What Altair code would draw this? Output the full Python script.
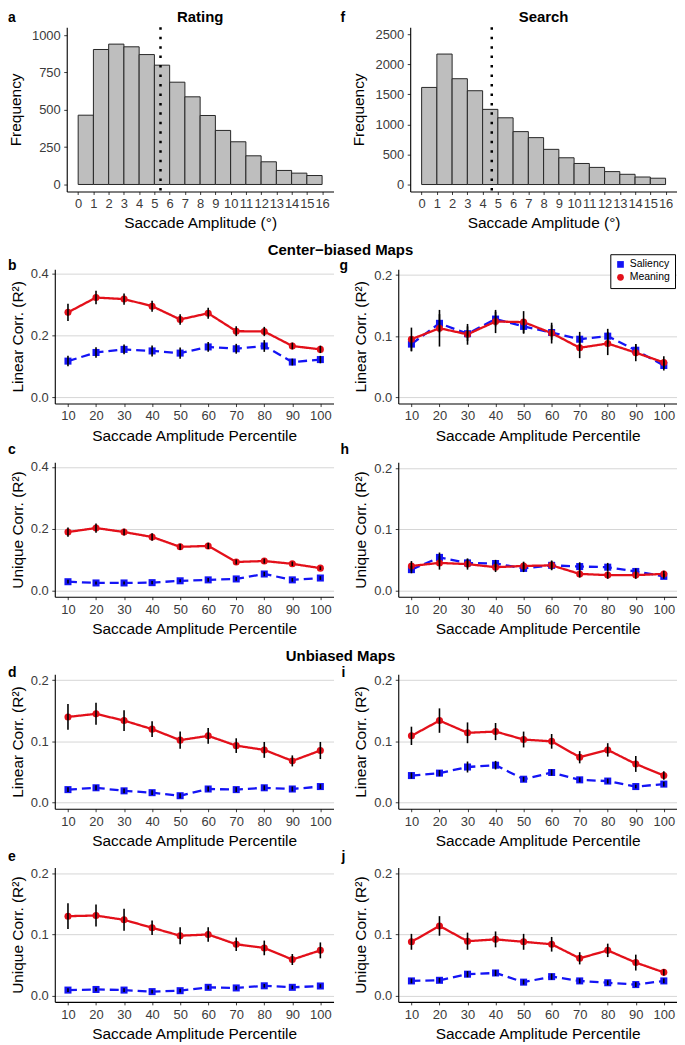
import altair as alt
import pandas as pd

FONT = "Liberation Sans"

# ---------------- histogram data ----------------
BIN_EDGES = list(range(17))
RATING_COUNTS = [464, 904, 940, 922, 870, 799, 685, 587, 462, 362, 286, 192, 152, 94, 76, 60]
SEARCH_COUNTS = [1615, 2170, 1760, 1560, 1250, 1110, 880, 780, 585, 445, 350, 285, 215, 170, 125, 105]
RATING_MEAN = [5.4]
SEARCH_MEAN = [4.6]
RATING_TICKS = [0, 250, 500, 750, 1000]
SEARCH_TICKS = [0, 500, 1000, 1500, 2000, 2500]

# ---------------- line panel data ----------------
PCT = [10, 20, 30, 40, 50, 60, 70, 80, 90, 100]
MODELS = ["Saliency", "Meaning"]
COLORS = ["#1414f5", "#e3101a"]

# b: center-biased, rating, linear
B_MEANING = [0.275, 0.323, 0.318, 0.295, 0.252, 0.272, 0.214, 0.213, 0.166, 0.155]
B_MEANING_ERR = [0.028, 0.022, 0.018, 0.018, 0.017, 0.018, 0.016, 0.015, 0.011, 0.012]
B_SALIENCY = [0.117, 0.145, 0.155, 0.150, 0.143, 0.163, 0.157, 0.166, 0.114, 0.122]
B_SALIENCY_ERR = [0.017, 0.017, 0.016, 0.018, 0.018, 0.016, 0.016, 0.019, 0.011, 0.012]
# g: center-biased, search, linear
G_MEANING = [0.095, 0.113, 0.103, 0.124, 0.123, 0.105, 0.081, 0.088, 0.073, 0.057]
G_MEANING_ERR = [0.019, 0.030, 0.017, 0.019, 0.018, 0.017, 0.017, 0.019, 0.014, 0.010]
G_SALIENCY = [0.087, 0.121, 0.104, 0.128, 0.116, 0.106, 0.095, 0.100, 0.077, 0.052]
G_SALIENCY_ERR = [0.012, 0.015, 0.012, 0.012, 0.012, 0.012, 0.012, 0.012, 0.010, 0.008]
# c: center-biased, rating, unique
C_MEANING = [0.189, 0.202, 0.189, 0.173, 0.141, 0.144, 0.092, 0.095, 0.086, 0.072]
C_MEANING_ERR = [0.015, 0.015, 0.011, 0.012, 0.010, 0.010, 0.008, 0.008, 0.007, 0.006]
C_SALIENCY = [0.028, 0.024, 0.024, 0.025, 0.031, 0.034, 0.037, 0.053, 0.034, 0.040]
C_SALIENCY_ERR = [0.006, 0.005, 0.005, 0.005, 0.005, 0.006, 0.006, 0.007, 0.006, 0.006]
# h: center-biased, search, unique
H_MEANING = [0.040, 0.045, 0.043, 0.038, 0.040, 0.041, 0.027, 0.025, 0.025, 0.027]
H_MEANING_ERR = [0.008, 0.011, 0.009, 0.008, 0.007, 0.008, 0.006, 0.006, 0.006, 0.005]
H_SALIENCY = [0.034, 0.054, 0.045, 0.044, 0.036, 0.041, 0.039, 0.038, 0.031, 0.023]
H_SALIENCY_ERR = [0.006, 0.008, 0.007, 0.006, 0.006, 0.007, 0.007, 0.007, 0.005, 0.004]
# d: unbiased, rating, linear
D_MEANING = [0.140, 0.145, 0.134, 0.120, 0.102, 0.109, 0.093, 0.086, 0.068, 0.085]
D_MEANING_ERR = [0.021, 0.018, 0.017, 0.013, 0.014, 0.013, 0.012, 0.013, 0.009, 0.014]
D_SALIENCY = [0.021, 0.024, 0.019, 0.016, 0.011, 0.022, 0.021, 0.024, 0.022, 0.026]
D_SALIENCY_ERR = [0.004, 0.004, 0.004, 0.004, 0.004, 0.004, 0.004, 0.004, 0.004, 0.004]
# i: unbiased, search, linear
I_MEANING = [0.109, 0.134, 0.114, 0.116, 0.103, 0.100, 0.074, 0.086, 0.063, 0.044]
I_MEANING_ERR = [0.015, 0.020, 0.017, 0.014, 0.013, 0.012, 0.010, 0.011, 0.013, 0.007]
I_SALIENCY = [0.044, 0.048, 0.058, 0.061, 0.038, 0.049, 0.037, 0.035, 0.026, 0.030]
I_SALIENCY_ERR = [0.005, 0.005, 0.009, 0.007, 0.004, 0.005, 0.004, 0.004, 0.003, 0.004]
# e: unbiased, rating, unique
E_MEANING = [0.130, 0.131, 0.124, 0.111, 0.098, 0.100, 0.084, 0.078, 0.059, 0.074]
E_MEANING_ERR = [0.021, 0.018, 0.018, 0.012, 0.014, 0.012, 0.011, 0.012, 0.009, 0.013]
E_SALIENCY = [0.009, 0.010, 0.009, 0.0065, 0.008, 0.0135, 0.0125, 0.016, 0.0135, 0.0157]
E_SALIENCY_ERR = [0.003, 0.003, 0.003, 0.003, 0.003, 0.003, 0.003, 0.003, 0.003, 0.003]
# j: unbiased, search, unique
J_MEANING = [0.088, 0.114, 0.089, 0.092, 0.088, 0.084, 0.061, 0.074, 0.054, 0.038]
J_MEANING_ERR = [0.013, 0.016, 0.014, 0.013, 0.013, 0.012, 0.010, 0.011, 0.013, 0.005]
J_SALIENCY = [0.024, 0.025, 0.035, 0.037, 0.022, 0.031, 0.024, 0.021, 0.018, 0.024]
J_SALIENCY_ERR = [0.004, 0.004, 0.005, 0.005, 0.004, 0.005, 0.004, 0.004, 0.004, 0.004]

LEGEND = alt.Legend(title=None, orient="none", legendX=558, legendY=228,
                    strokeColor="black", fillColor="white", padding=5,
                    labelFont=FONT, labelFontSize=10.5, labelColor="black",
                    symbolSize=45, symbolStrokeWidth=0, rowPadding=2, labelOffset=4)

PW = 280


def text_layer(text, x, y, size, align="left", weight="bold"):
    return alt.Chart(pd.DataFrame({"t": [text]})).mark_text(
        font=FONT, fontSize=size, fontWeight=weight, align=align,
        baseline="alphabetic", color="black"
    ).encode(text="t:N", x=alt.value(x), y=alt.value(y))


def hist_panel(counts, mean, ticks, ydom, title, letter, letter_x):
    df = pd.DataFrame({"start": BIN_EDGES[:-1], "end": BIN_EDGES[1:],
                       "count": counts, "base": [0] * len(counts)})
    xscale = alt.Scale(domain=[-0.75, 16.75], range=[12, PW], nice=False, zero=False)
    xaxis = alt.Axis(values=BIN_EDGES, title="Saccade Amplitude (°)", grid=False,
                     labelOverlap=False, labelFlush=False, titlePadding=5)
    yscale = alt.Scale(domain=ydom, nice=False, zero=False)
    yaxis = alt.Axis(values=ticks, format="d", title="Frequency", grid=False, offset=-12,
                     labelFlush=False, labelOverlap=False, titlePadding=8)
    bars = alt.Chart(df).mark_bar(fill="#bebebe", stroke="#262626", strokeWidth=1).encode(
        x=alt.X("start:Q", scale=xscale, axis=xaxis), x2="end:Q",
        y=alt.Y("count:Q", scale=yscale, axis=yaxis), y2="base:Q")
    rule = alt.Chart(pd.DataFrame({"m": mean})).mark_rule(
        color="black", strokeWidth=2.5, strokeDash=[2.5, 7]
    ).encode(x=alt.X("m:Q", scale=xscale, axis=xaxis))
    return alt.layer(
        bars, rule,
        text_layer(letter, letter_x, -5, 14),
        text_layer(title, (12 + PW) / 2, -5, 15, align="center"),
    ).properties(width=PW, height=165)


def line_panel(meaning, meaning_err, saliency, saliency_err, ydom, yticks, ytitle,
               height, top_pad, letter, letter_x, letter_y, header=None, header_y=None):
    rows = []
    for model, vals, errs in [("Saliency", saliency, saliency_err), ("Meaning", meaning, meaning_err)]:
        for p, v, e in zip(PCT, vals, errs):
            rows.append({"pct": p, "model": model, "value": v, "lo": v - e, "hi": v + e})
    df = pd.DataFrame(rows)
    xenc = alt.X("pct:Q", scale=alt.Scale(domain=[5.3, 104.7], nice=False, zero=False),
                 axis=alt.Axis(values=PCT, title="Saccade Amplitude Percentile", grid=False,
                               labelFlush=False, labelOverlap=False))
    yscale = alt.Scale(domain=ydom, range=[height, top_pad], nice=False, zero=False)
    yaxis = alt.Axis(values=yticks, format=".1f", title=ytitle, grid=True,
                     labelFlush=False, labelOverlap=False)
    color = alt.Color("model:N", scale=alt.Scale(domain=MODELS, range=COLORS), legend=LEGEND)
    shape = alt.Shape("model:N", scale=alt.Scale(domain=MODELS, range=["square", "circle"]), legend=LEGEND)
    dash = alt.StrokeDash("model:N", scale=alt.Scale(domain=MODELS, range=[[9, 5], [1, 0]]), legend=None)
    base = alt.Chart(df)
    line = base.mark_line(strokeWidth=2.3).encode(
        x=xenc, y=alt.Y("value:Q", scale=yscale, axis=yaxis), color=color, strokeDash=dash)
    pts = base.mark_point(filled=True, size=50, opacity=1).encode(
        x=xenc, y=alt.Y("value:Q", scale=yscale, axis=yaxis), color=color, shape=shape)
    err = base.mark_rule(color="black", strokeWidth=1.6).encode(
        x=xenc, y=alt.Y("lo:Q", scale=yscale, axis=yaxis), y2="hi:Q")
    layers = [line, pts, err, text_layer(letter, letter_x, letter_y, 14)]
    if header is not None:
        layers.append(text_layer(header, 287, header_y, 15, align="center"))
    return alt.layer(*layers).properties(width=PW, height=height)


DOM4 = [-0.0205, 0.415]
DOM2 = [-0.0103, 0.2097]
T4 = [0.0, 0.2, 0.4]
T2 = [0.0, 0.1, 0.2]
LIN = "Linear Corr. (R²)"
UNI = "Unique Corr. (R²)"

pa = hist_panel(RATING_COUNTS, RATING_MEAN, RATING_TICKS, [-47, 1053], "Rating", "a", -47)
pf = hist_panel(SEARCH_COUNTS, SEARCH_MEAN, SEARCH_TICKS, [-116, 2616], "Search", "f", -58)

pb = line_panel(B_MEANING, B_MEANING_ERR, B_SALIENCY, B_SALIENCY_ERR, DOM4, T4, LIN,
                154.5, 19.5, "b", -47, 20.3, header="Center−biased Maps", header_y=5.5)
pg = line_panel(G_MEANING, G_MEANING_ERR, G_SALIENCY, G_SALIENCY_ERR, DOM2, T2, LIN,
                154.5, 19.5, "g", -59, 20.3)
pc = line_panel(C_MEANING, C_MEANING_ERR, C_SALIENCY, C_SALIENCY_ERR, DOM4, T4, UNI,
                135, 0, "c", -47, -8.5)
ph = line_panel(H_MEANING, H_MEANING_ERR, H_SALIENCY, H_SALIENCY_ERR, DOM2, T2, UNI,
                135, 0, "h", -58, -8.5)
pd_ = line_panel(D_MEANING, D_MEANING_ERR, D_SALIENCY, D_SALIENCY_ERR, DOM2, T2, LIN,
                 154.5, 19.5, "d", -47, 21.7, header="Unbiased Maps", header_y=6)
pi = line_panel(I_MEANING, I_MEANING_ERR, I_SALIENCY, I_SALIENCY_ERR, DOM2, T2, LIN,
                154.5, 19.5, "i", -57, 21.7)
pe = line_panel(E_MEANING, E_MEANING_ERR, E_SALIENCY, E_SALIENCY_ERR, DOM2, T2, UNI,
                135, 0, "e", -47, -6.3)
pj = line_panel(J_MEANING, J_MEANING_ERR, J_SALIENCY, J_SALIENCY_ERR, DOM2, T2, UNI,
                135, 0, "j", -57, -6.3)

chart = alt.concat(
    pa, pf, pb, pg, pc, ph, pd_, pi, pe, pj,
    columns=2,
    spacing=alt.RowColnumber(row=58.5, column=65),
    bounds="flush",
).properties(padding=0).configure_view(stroke=None).configure_axis(
    labelFont=FONT, titleFont=FONT, labelFontSize=13, titleFontSize=15.5,
    labelColor="#3b3b3b", titleColor="black", titleFontWeight="normal",
    domainColor="black", domainWidth=1.1, tickColor="#3b3b3b", tickSize=3,
    tickWidth=1, labelPadding=3.5, gridColor="#d6d6d6", gridWidth=1,
).configure_axisX(titlePadding=5.5).configure_axisY(titlePadding=5)

chart.save("out.html", embed_options={"renderer": "svg", "actions": False})
